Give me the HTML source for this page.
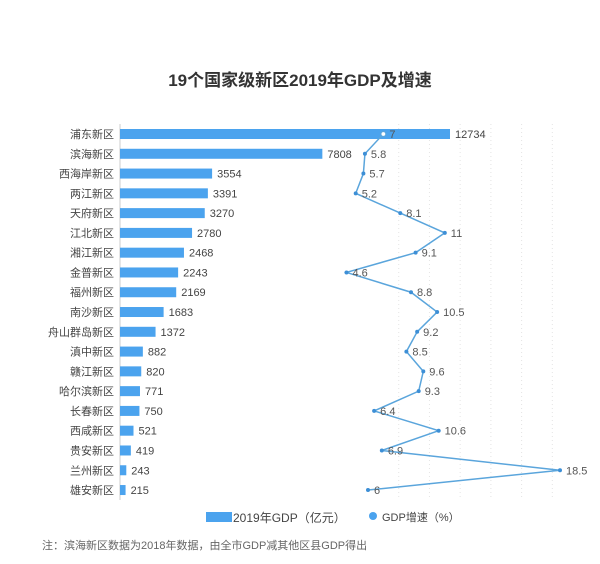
<!DOCTYPE html>
<html><head><meta charset="utf-8"><style>
body{margin:0;background:#fff;font-family:"Liberation Sans","Noto Sans CJK SC",sans-serif;}
svg text{font-family:"Liberation Sans","Noto Sans CJK SC",sans-serif;}
</style></head><body>
<svg id="chart" width="600" height="559" viewBox="0 0 600 559">
<text x="300" y="86" text-anchor="middle" font-size="17" font-weight="bold" fill="#333">19个国家级新区2019年GDP及增速</text>
<g id="grid"></g>
<line x1="120" y1="124" x2="120" y2="500" stroke="#ccc" stroke-width="1"/>
<g id="bars"></g>
<g id="line"></g>
<g>
<rect x="206" y="512" width="26" height="10" fill="#4ba3ee"/>
<text x="233" y="522" font-size="12" fill="#444">2019年GDP（亿元）</text>
<circle cx="373" cy="516" r="4" fill="#4ba3ee"/>
<text x="382" y="521" font-size="11" fill="#444">GDP增速（%）</text>
</g>
<text x="42" y="549" font-size="11" fill="#666">注：滨海新区数据为2018年数据，由全市GDP减其他区县GDP得出</text>
</svg>
<script>
const categories=["浦东新区","滨海新区","西海岸新区","两江新区","天府新区","江北新区","湘江新区","金普新区","福州新区","南沙新区","舟山群岛新区","滇中新区","赣江新区","哈尔滨新区","长春新区","西咸新区","贵安新区","兰州新区","雄安新区"];
const gdp=[12734,7808,3554,3391,3270,2780,2468,2243,2169,1683,1372,882,820,771,750,521,419,243,215];
const growth=[7,5.8,5.7,5.2,8.1,11,9.1,4.6,8.8,10.5,9.2,8.5,9.6,9.3,6.4,10.6,6.9,18.5,6];
const gridTicks=[8,10,12,14,16,18];
const NS="http://www.w3.org/2000/svg";
const xBar=v=>120+v*330/12734;
const xLine=v=>368+(v-6)*15.36;
const yRow=i=>134+i*19.78;
function mk(tag,attrs,parent,text){const e=document.createElementNS(NS,tag);for(const k in attrs)e.setAttribute(k,attrs[k]);if(text!==undefined)e.textContent=text;parent.appendChild(e);return e;}
const grid=document.getElementById('grid'),bars=document.getElementById('bars'),line=document.getElementById('line');
gridTicks.forEach(t=>{const g=mk('line',{x1:xLine(t),x2:xLine(t),y1:124,y2:500,stroke:'#e4e4e4','stroke-dasharray':'1,3'},grid);

});
categories.forEach((c,i)=>{const y=yRow(i);
const l=mk('text',{x:114,y:y+4,'text-anchor':'end','font-size':11,fill:'#444'},bars,c);


const r=mk('rect',{x:120,y:y-5,width:xBar(gdp[i])-120,height:10,fill:'#4ba3ee'},bars);


const v=mk('text',{x:xBar(gdp[i])+5,y:y+4,'font-size':11,fill:'#444'},bars,String(gdp[i]));

});
const pts=growth.map((g,i)=>xLine(g)+','+yRow(i)).join(' ');
const pl=mk('polyline',{points:pts,fill:'none',stroke:'#5aa5dc','stroke-width':1.5},line);


growth.forEach((g,i)=>{const x=xLine(g),y=yRow(i);
const c=mk('circle',i===0?{cx:x,cy:y,r:2.5,fill:'#fff',stroke:'#5aa5dc','stroke-width':1.2}:{cx:x,cy:y,r:2,fill:'#3d8fd6'},line);


const t=mk('text',{x:x+6,y:y+4,'font-size':11,fill:'#555'},line,String(g));

});
</script>
</body></html>
